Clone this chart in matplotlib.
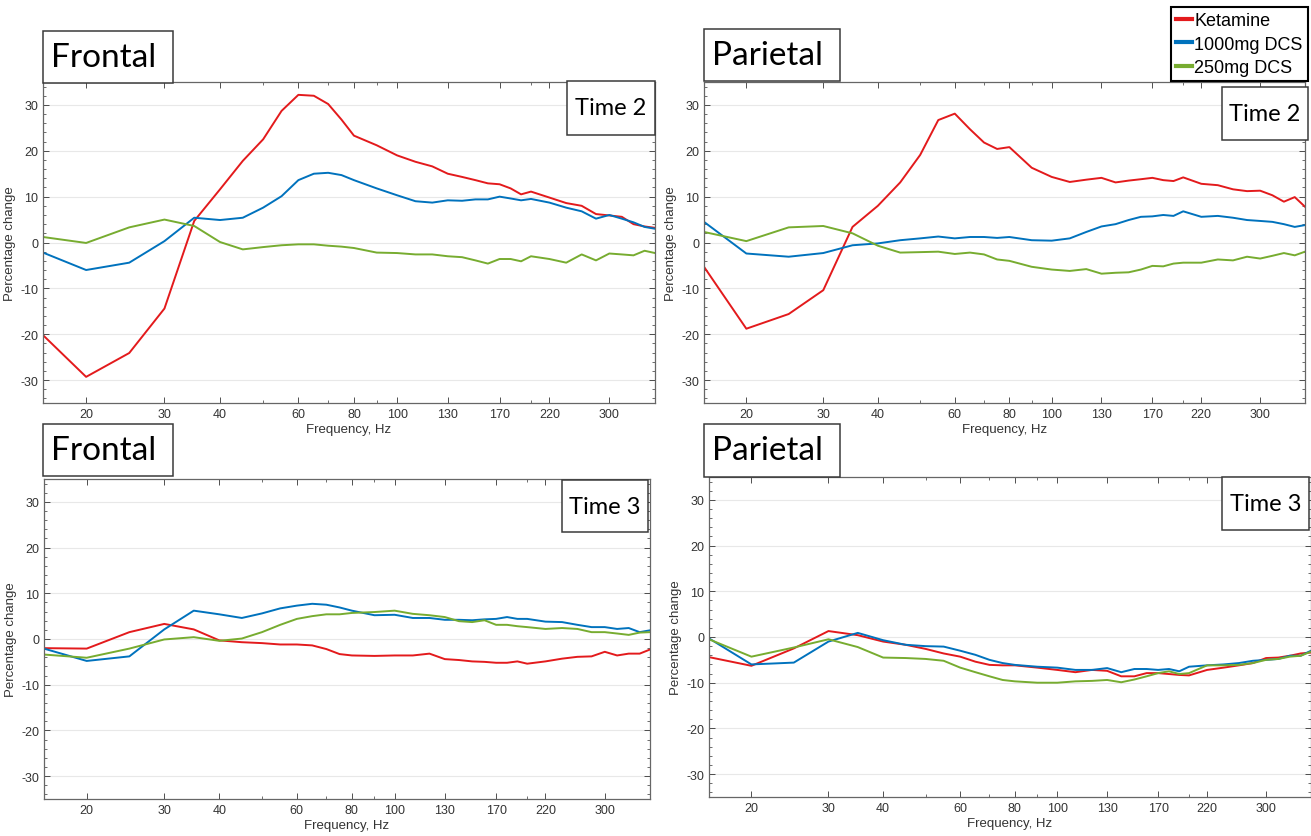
import numpy as np
import matplotlib.pyplot as plt
from matplotlib.patches import Rectangle
from matplotlib.lines import Line2D
from matplotlib.ticker import FixedLocator, NullFormatter, AutoMinorLocator, LogLocator

plt.rcParams['font.family'] = ['Liberation Sans', 'DejaVu Sans']
plt.rcParams['axes.unicode_minus'] = False

# frequency grid (Hz)
freq = [16, 20, 25, 30, 35, 40, 45, 50, 55, 60, 65, 70, 75, 80, 90, 100, 110, 120,
        130, 140, 150, 160, 170, 180, 190, 200, 220, 240, 260, 280, 300, 320, 340, 360, 380]

xticks = [20, 30, 40, 60, 80, 100, 130, 170, 220, 300]
yticks = [-30, -20, -10, 0, 10, 20, 30]

series_names = ['Ketamine', '1000mg DCS', '250mg DCS']
colors = ['#e31a1c', '#0072bd', '#77ac30']

# Frontal, time 2
fr_t2_ket = [-20.2, -29.3, -24.1, -14.4, 4.7, 11.6, 17.8, 22.5, 28.7, 32.2, 32.0, 30.2, 26.8, 23.3,
             21.2, 19.0, 17.6, 16.6, 15.0, 14.3, 13.6, 12.9, 12.7, 11.8, 10.5, 11.1, 9.8, 8.6,
             8.0, 6.2, 5.9, 5.6, 4.0, 3.5, 3.2]
fr_t2_d1000 = [-2.2, -6.0, -4.4, 0.3, 5.4, 4.9, 5.4, 7.6, 10.1, 13.6, 15.0, 15.2, 14.7, 13.6,
               11.8, 10.3, 9.0, 8.7, 9.2, 9.1, 9.4, 9.4, 10.0, 9.6, 9.2, 9.5, 8.7, 7.6,
               6.8, 5.2, 6.0, 5.2, 4.4, 3.4, 3.0]
fr_t2_d250 = [1.2, -0.1, 3.3, 5.0, 3.6, 0.1, -1.5, -1.0, -0.6, -0.4, -0.4, -0.7, -0.9, -1.2,
              -2.2, -2.3, -2.6, -2.6, -3.0, -3.2, -3.9, -4.6, -3.6, -3.6, -4.1, -3.0, -3.6, -4.4,
              -2.6, -3.9, -2.4, -2.6, -2.8, -1.8, -2.3]

# Parietal, time 2
pa_t2_ket = [-5.3, -18.8, -15.6, -10.4, 3.4, 8.0, 13.1, 19.1, 26.7, 28.1, 24.7, 21.8, 20.4, 20.8,
             16.3, 14.3, 13.2, 13.7, 14.1, 13.1, 13.5, 13.8, 14.1, 13.6, 13.4, 14.2, 12.8, 12.5,
             11.6, 11.2, 11.3, 10.3, 8.9, 9.9, 7.8]
pa_t2_d1000 = [4.5, -2.4, -3.1, -2.3, -0.6, -0.2, 0.5, 0.9, 1.3, 0.9, 1.2, 1.2, 1.0, 1.2,
               0.5, 0.4, 0.9, 2.3, 3.5, 4.0, 4.9, 5.6, 5.7, 6.0, 5.8, 6.8, 5.6, 5.8,
               5.4, 4.9, 4.7, 4.5, 4.0, 3.4, 3.8]
pa_t2_d250 = [2.3, 0.3, 3.3, 3.6, 2.0, -0.7, -2.2, -2.1, -2.0, -2.5, -2.2, -2.6, -3.7, -4.0,
              -5.3, -5.9, -6.2, -5.8, -6.8, -6.6, -6.5, -5.9, -5.1, -5.2, -4.6, -4.4, -4.4, -3.7,
              -3.9, -3.1, -3.5, -2.9, -2.3, -2.8, -2.0]

# Frontal, time 3
fr_t3_ket = [-2.0, -2.1, 1.5, 3.3, 2.1, -0.3, -0.7, -0.9, -1.2, -1.2, -1.4, -2.2, -3.3, -3.6,
             -3.7, -3.6, -3.6, -3.2, -4.4, -4.6, -4.9, -5.0, -5.2, -5.2, -4.9, -5.4, -4.9, -4.3,
             -3.9, -3.8, -2.8, -3.6, -3.2, -3.2, -2.3]
fr_t3_d1000 = [-2.1, -4.8, -3.8, 2.1, 6.2, 5.4, 4.6, 5.6, 6.7, 7.3, 7.7, 7.5, 6.9, 6.2,
               5.2, 5.3, 4.6, 4.6, 4.2, 4.2, 4.1, 4.3, 4.4, 4.8, 4.4, 4.4, 3.8, 3.7,
               3.1, 2.6, 2.6, 2.2, 2.4, 1.5, 1.9]
fr_t3_d250 = [-3.4, -4.1, -2.1, -0.1, 0.4, -0.4, 0.1, 1.5, 3.1, 4.4, 5.0, 5.4, 5.4, 5.7,
              5.9, 6.2, 5.5, 5.2, 4.8, 3.9, 3.7, 4.1, 3.1, 3.1, 2.8, 2.6, 2.2, 2.4,
              2.2, 1.5, 1.5, 1.2, 0.9, 1.4, 1.5]

# Parietal, time 3
pa_t3_ket = [-4.4, -6.3, -2.5, 1.3, 0.4, -1.0, -1.7, -2.6, -3.6, -4.3, -5.4, -6.1, -6.2, -6.2,
             -6.7, -7.2, -7.7, -7.2, -7.4, -8.6, -8.6, -7.9, -7.9, -8.1, -8.3, -8.4, -7.2, -6.7,
             -6.2, -5.7, -4.6, -4.5, -4.1, -3.6, -3.4]
pa_t3_d1000 = [-0.3, -6.0, -5.6, -1.0, 0.9, -0.7, -1.7, -2.0, -2.1, -3.0, -3.9, -5.0, -5.7, -6.1,
               -6.5, -6.7, -7.2, -7.2, -6.8, -7.7, -7.0, -7.0, -7.2, -7.0, -7.5, -6.5, -6.2, -6.0,
               -5.7, -5.2, -5.0, -4.8, -4.1, -4.1, -3.0]
pa_t3_d250 = [-0.5, -4.3, -2.3, -0.5, -2.2, -4.5, -4.6, -4.8, -5.2, -6.7, -7.7, -8.6, -9.4, -9.7,
              -10.0, -10.0, -9.7, -9.6, -9.4, -9.9, -9.3, -8.6, -7.9, -7.5, -8.1, -7.9, -6.2, -6.2,
              -6.1, -5.7, -5.0, -4.8, -4.3, -4.1, -3.2]

W, H = 1311, 837
fig = plt.figure(figsize=(W / 100, H / 100), dpi=100)


def px_rect(x0, y0, x1, y1):
    return [x0 / W, 1 - y1 / H, (x1 - x0) / W, (y1 - y0) / H]


def boxed_text(x0, y0, x1, y1, text, size, align='center'):
    r = Rectangle((x0 / W, 1 - y1 / H), (x1 - x0) / W, (y1 - y0) / H,
                  transform=fig.transFigure, facecolor='white', edgecolor='#3a3a3a',
                  linewidth=1.1, zorder=5)
    fig.add_artist(r)
    if align == 'left':
        tx, ha = (x0 + 8) / W, 'left'
    else:
        tx, ha = (x0 + x1) / 2 / W, 'center'
    fig.text(tx, 1 - (y0 + y1) / 2 / H, text, ha=ha, va='center', fontsize=size,
             family=['Lato', 'DejaVu Sans'], color='black', zorder=6)


panels = [
    ((43, 83, 655, 404), (fr_t2_ket, fr_t2_d1000, fr_t2_d250),
     ('Frontal', (43, 32, 173, 84)), ('Time 2', (567, 82, 655, 136))),
    ((704, 83, 1305, 404), (pa_t2_ket, pa_t2_d1000, pa_t2_d250),
     ('Parietal', (704, 30, 840, 82)), ('Time 2', (1222, 88, 1308, 141))),
    ((44, 480, 650, 800), (fr_t3_ket, fr_t3_d1000, fr_t3_d250),
     ('Frontal', (43, 425, 173, 477)), ('Time 3', (562, 481, 648, 533))),
    ((709, 478, 1311, 798), (pa_t3_ket, pa_t3_d1000, pa_t3_d250),
     ('Parietal', (704, 425, 840, 478)), ('Time 3', (1222, 478, 1309, 531))),
]

axis_col = '#333333'
for rect, series, region, time in panels:
    ax = fig.add_axes(px_rect(*rect))
    for vals, c in zip(series, colors):
        ax.plot(freq, vals, color=c, linewidth=1.4)
    ax.set_xscale('log')
    ax.set_xlim(16, 380)
    ax.set_ylim(-35, 35)
    ax.xaxis.set_major_locator(FixedLocator(xticks))
    ax.set_xticklabels([str(t) for t in xticks])
    ax.xaxis.set_minor_locator(LogLocator(base=10, subs=np.arange(2, 10)))
    ax.xaxis.set_minor_formatter(NullFormatter())
    ax.set_yticks(yticks)
    ax.yaxis.set_minor_locator(AutoMinorLocator(5))
    ax.grid(True, axis='y', color='#e8e8e8', linewidth=0.8)
    ax.set_axisbelow(True)
    ax.tick_params(which='both', direction='in', top=True, right=True,
                   colors=axis_col, labelsize=9)
    ax.tick_params(which='major', length=4, width=0.6)
    ax.tick_params(which='minor', length=2.5, width=0.5)
    for s in ax.spines.values():
        s.set_color('#666666')
        s.set_linewidth(0.9)
    ax.set_xlabel('Frequency, Hz', fontsize=9.5, color=axis_col, labelpad=2)
    ax.set_ylabel('Percentage change', fontsize=9.5, color=axis_col, labelpad=3)

    boxed_text(*region[1], region[0], 24, align='left')
    boxed_text(*time[1], time[0], 17)

handles = [Line2D([], [], color=c, linewidth=3) for c in colors]
leg = fig.legend(handles, series_names, loc='upper right',
                 bbox_to_anchor=(1308 / W, 1 - 8 / H), fontsize=13, frameon=True,
                 fancybox=False, framealpha=1, edgecolor='black', borderpad=0.3,
                 labelspacing=0.35, handlelength=0.9, handletextpad=0.1, borderaxespad=0)
leg.get_frame().set_linewidth(1.5)
leg.set_zorder(7)

fig.savefig('out.png', dpi=100)
